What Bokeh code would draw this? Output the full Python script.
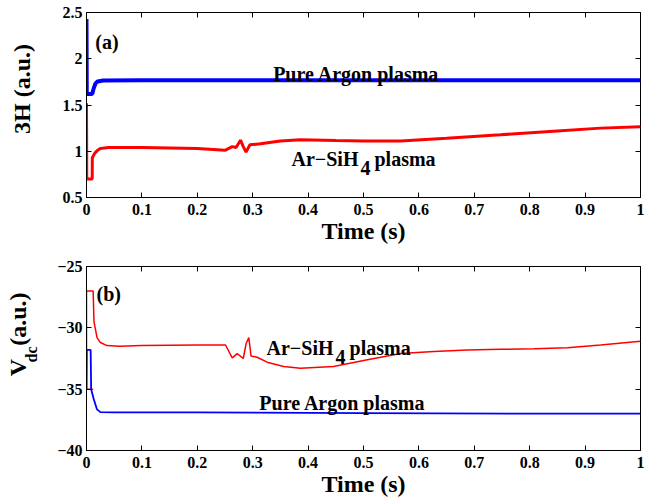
import numpy as np
from bokeh.plotting import figure
from bokeh.models import Label, LinearAxis, FixedTicker, Range1d
from bokeh.layouts import column, row
from bokeh.embed import file_html
from bokeh.resources import INLINE

FONT = "Liberation Serif"

# ---------------- data ----------------
# panel (a): 3H emission (a.u.)
t_ar_a = [0.0, 0.0005, 0.0103, 0.013, 0.016, 0.02, 0.03, 0.1, 0.2, 0.3, 0.4, 0.5, 0.6, 0.7, 0.8, 0.9, 1.0]
h_ar_a = [2.43, 1.62, 1.62, 1.68, 1.73, 1.755, 1.765, 1.768, 1.768, 1.768, 1.768, 1.768, 1.768, 1.768, 1.768, 1.768, 1.768]

t_si_a = [0.0, 0.0005, 0.0103, 0.0105, 0.015, 0.02, 0.025, 0.04, 0.1, 0.2, 0.25, 0.263, 0.27, 0.278,
          0.283, 0.288, 0.295, 0.314, 0.35, 0.386, 0.45, 0.5, 0.567, 0.65, 0.747, 0.85, 0.928, 1.0]
h_si_a = [1.52, 0.70, 0.70, 0.93, 0.98, 1.01, 1.03, 1.04, 1.04, 1.03, 1.01, 1.05, 1.04, 1.12,
          1.05, 0.99, 1.07, 1.08, 1.11, 1.125, 1.115, 1.11, 1.11, 1.14, 1.178, 1.22, 1.25, 1.265]

# panel (b): Vdc (a.u.)
t_ar_b = [0.0, 0.0005, 0.0075, 0.0084, 0.013, 0.019, 0.025, 0.05, 0.2, 0.5, 0.8, 1.0]
v_ar_b = [-35.0, -31.8, -31.8, -35.0, -35.8, -36.65, -36.87, -36.9, -36.9, -36.95, -37.0, -37.0]

t_si_b = [0.012, 0.0, 0.0, 0.012, 0.0135, 0.019, 0.025, 0.037, 0.06, 0.1, 0.2, 0.251, 0.263, 0.272,
          0.283, 0.288, 0.293, 0.297, 0.308, 0.326, 0.356, 0.386, 0.446, 0.507, 0.567, 0.627,
          0.687, 0.748, 0.808, 0.868, 0.928, 1.0]
v_si_b = [-35.0, -35.0, -27.0, -27.0, -29.5, -30.8, -31.2, -31.45, -31.5, -31.45, -31.4, -31.4, -32.45, -32.1,
          -32.5, -31.3, -30.8, -32.3, -32.4, -32.8, -33.15, -33.3, -33.15, -32.6, -32.1, -31.93,
          -31.8, -31.75, -31.7, -31.63, -31.4, -31.1]

x_ticks = [0.0, 0.1, 0.2, 0.3, 0.4, 0.5, 0.6, 0.7, 0.8, 0.9, 1.0]
x_tick_labels = ["0", "0.1", "0.2", "0.3", "0.4", "0.5", "0.6", "0.7", "0.8", "0.9", "1"]
ya_ticks = [0.5, 1.0, 1.5, 2.0, 2.5]
ya_tick_labels = ["0.5", "1", "1.5", "2", "2.5"]
yb_ticks = [-40.0, -35.0, -30.0, -25.0]
yb_tick_labels = ["\u221240", "\u221235", "\u221230", "\u221225"]

BLUE = "#0000ff"
RED = "#ff0000"

TOP_H = 249   # height of row (a)
BOT_H = 253   # height of row (b)
LAB_W = 44    # width of the y-title strip


def style_axis(ax, ticks, labels, show_labels=True):
    ax.ticker = FixedTicker(ticks=ticks)
    ax.major_label_overrides = {t: l for t, l in zip(ticks, labels)}
    ax.major_tick_in = 5
    ax.major_tick_out = 0
    ax.minor_tick_line_color = None
    ax.axis_line_color = "black"
    ax.major_tick_line_color = "black"
    ax.major_label_text_font = FONT
    ax.major_label_text_font_style = "bold"
    ax.major_label_text_color = "black"
    if show_labels:
        ax.major_label_text_font_size = "16px"
    else:
        ax.major_label_text_font_size = "0px"
        ax.major_label_text_color = None
        ax.major_label_text_alpha = 0
        ax.major_label_standoff = 0
        ax.axis_line_color = None


def make_fig(yr, yticks, ylabels, border_top, frame_h):
    p = figure(frame_width=554, frame_height=frame_h,
               x_range=Range1d(0, 1), y_range=Range1d(*yr),
               output_backend="svg", toolbar_location=None,
               min_border_left=86 - LAB_W, min_border_right=6, min_border_top=border_top,
               min_border_bottom=52)
    p.grid.visible = False
    p.outline_line_color = "black"
    p.outline_line_width = 1
    p.background_fill_color = "white"
    p.border_fill_color = "white"
    style_axis(p.xaxis[0], x_ticks, x_tick_labels)
    style_axis(p.yaxis[0], yticks, ylabels)
    p.xaxis[0].major_label_standoff = 6
    p.yaxis[0].major_label_standoff = 4
    p.xaxis[0].axis_label = "Time (s)"
    p.xaxis[0].axis_label_text_font = FONT
    p.xaxis[0].axis_label_text_font_style = "bold"
    p.xaxis[0].axis_label_text_font_size = "24px"
    p.xaxis[0].axis_label_standoff = 0
    p.xaxis[0].axis_label_text_color = "black"
    top_ax = LinearAxis()
    style_axis(top_ax, x_ticks, x_tick_labels, show_labels=False)
    p.add_layout(top_ax, "above")
    right_ax = LinearAxis()
    style_axis(right_ax, yticks, ylabels, show_labels=False)
    p.add_layout(right_ax, "right")
    return p


def label_strip(h):
    s = figure(width=LAB_W, height=h, x_range=Range1d(0, LAB_W), y_range=Range1d(0, h),
               output_backend="svg", toolbar_location=None,
               min_border=0, min_border_left=0, min_border_right=0,
               min_border_top=0, min_border_bottom=0)
    s.axis.visible = False
    s.grid.visible = False
    s.outline_line_color = None
    s.background_fill_color = "white"
    s.border_fill_color = "white"
    return s


def add_text(p, x, y, text, size="20px", angle=0.0, align="left", baseline="alphabetic", x_offset=0):
    p.add_layout(Label(x=x, y=y, text=text, angle=angle, x_offset=x_offset,
                       text_font=FONT, text_font_style="bold", text_font_size=size,
                       text_color="black", text_align=align, text_baseline=baseline))


# ---------------- panel (a) ----------------
pa = make_fig((0.5, 2.5), ya_ticks, ya_tick_labels, 12, 185)
pa.line(t_si_a, h_si_a, line_color=RED, line_width=3)
pa.line(t_ar_a, h_ar_a, line_color=BLUE, line_width=4)
add_text(pa, 0.016, 2.176, "(a)")
add_text(pa, 0.487, 1.837, "Pure Argon plasma", align="center")
add_text(pa, 0.37, 0.911, "Ar\u2212SiH")
add_text(pa, 0.37, 0.814, "4", x_offset=69)
add_text(pa, 0.37, 0.911, "plasma", x_offset=83)

sa = label_strip(TOP_H)
add_text(sa, 21, TOP_H - 103, "3H (a.u.)", size="24px", angle=np.pi / 2,
         align="center", baseline="middle")

# ---------------- panel (b) ----------------
pb = make_fig((-40, -25), yb_ticks, yb_tick_labels, 266 - TOP_H, 184)
pb.line(t_si_b, v_si_b, line_color=RED, line_width=1.5)
pb.line(t_ar_b, v_ar_b, line_color=BLUE, line_width=1.8)
add_text(pb, 0.018, -27.28, "(b)")
add_text(pb, 0.325, -31.63, "Ar\u2212SiH")
add_text(pb, 0.325, -32.36, "4", x_offset=69)
add_text(pb, 0.325, -31.63, "plasma", x_offset=83)
add_text(pb, 0.462, -36.11, "Pure Argon plasma", align="center")

sb = label_strip(BOT_H)
add_text(sb, 17, BOT_H - (400 - TOP_H), "V", size="24px", angle=np.pi / 2,
         align="left", baseline="middle")
add_text(sb, 31, BOT_H - (381 - TOP_H), "dc", size="16px", angle=np.pi / 2,
         align="left", baseline="middle")
add_text(sb, 17, BOT_H - (358 - TOP_H), "(a.u.)", size="24px", angle=np.pi / 2,
         align="left", baseline="middle")

layout = column(row(sa, pa, spacing=0), row(sb, pb, spacing=0), spacing=0)
open("out.html", "w").write(file_html(layout, INLINE))
